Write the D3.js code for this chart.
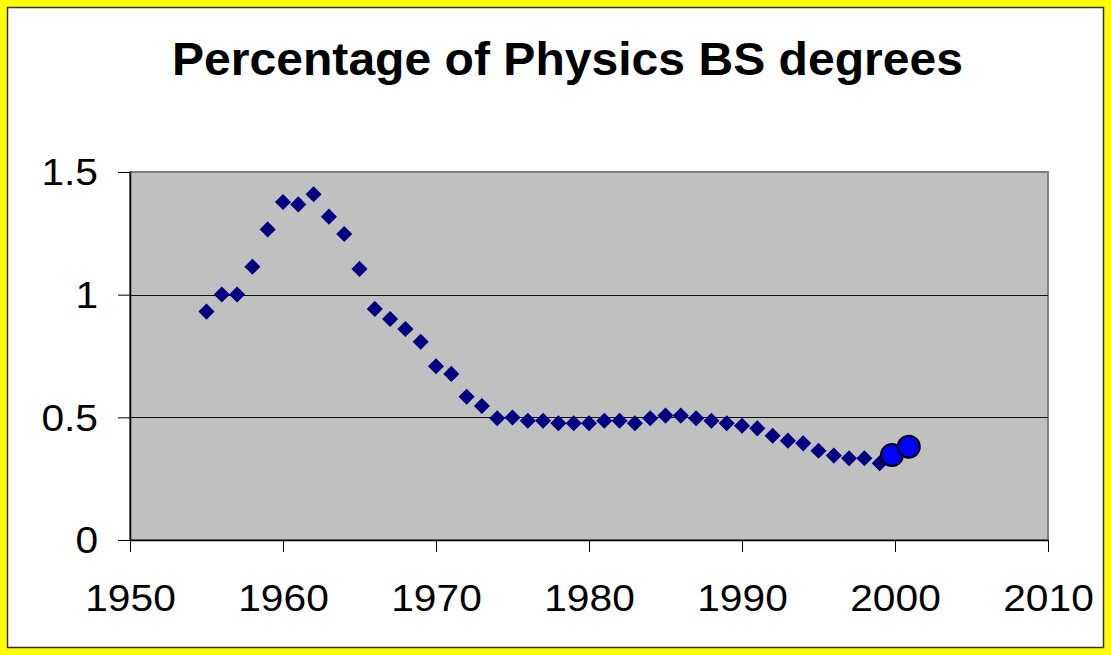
<!DOCTYPE html>
<meta charset="utf-8">
<style>
body { margin: 0; background: #fff; }
text { font-family: "Liberation Sans", Arial, sans-serif; }
</style>
<svg width="1111" height="655"></svg>
<script src="https://d3js.org/d3.v7.min.js"></script>
<script>

var years = [1955, 1956, 1957, 1958, 1959, 1960, 1961, 1962, 1963, 1964,
             1965, 1966, 1967, 1968, 1969, 1970, 1971, 1972, 1973, 1974,
             1975, 1976, 1977, 1978, 1979, 1980, 1981, 1982, 1983, 1984,
             1985, 1986, 1987, 1988, 1989, 1990, 1991, 1992, 1993, 1994,
             1995, 1996, 1997, 1998, 1999];
var percent = [0.931, 1.001, 1.001, 1.114, 1.266, 1.378, 1.368, 1.409, 1.318, 1.247,
               1.105, 0.942, 0.901, 0.860, 0.808, 0.708, 0.677, 0.584, 0.546, 0.496,
               0.499, 0.486, 0.486, 0.476, 0.476, 0.476, 0.486, 0.486, 0.476, 0.496,
               0.507, 0.507, 0.496, 0.486, 0.476, 0.466, 0.455, 0.425, 0.405, 0.394,
               0.364, 0.344, 0.333, 0.333, 0.313];

// the two later points drawn as big circles
var newYears = [1999.8, 2000.9];
var newPercent = [0.346, 0.380];

var xTicks = [1950, 1960, 1970, 1980, 1990, 2000, 2010];
var yTicks = [0, 0.5, 1, 1.5];
var yLabels = ["0", "0.5", "1", "1.5"];

var svg = d3.select("svg"),
    width = +svg.attr("width"),
    height = +svg.attr("height");

var stretch = 1.1;

// yellow frame
svg.append("rect")
    .attr("width", width).attr("height", height)
    .attr("fill", "#ffff00");
svg.append("rect")
    .attr("x", 7.5).attr("y", 7.5)
    .attr("width", width - 15).attr("height", height - 15)
    .attr("fill", "#fff")
    .attr("stroke", "#333")
    .attr("stroke-width", 1.5);

var title = svg.append("text")
    .attr("x", 567.5)
    .attr("y", 75)
    .attr("text-anchor", "middle")
    .attr("font-size", 46)
    .attr("font-weight", "bold")
    .attr("fill", "#000")
    .text("Percentage of Physics BS degrees");
title.attr("textLength", 791).attr("lengthAdjust", "spacingAndGlyphs");

var plotLeft = 130, plotRight = 1048, plotTop = 172, plotBottom = 540;

var x = d3.scaleLinear().domain([1950, 2010]).range([plotLeft, plotRight]);
var y = d3.scaleLinear().domain([0, 1.5]).range([plotBottom, plotTop]);

svg.append("rect")
    .attr("x", plotLeft).attr("y", plotTop)
    .attr("width", plotRight - plotLeft).attr("height", plotBottom - plotTop)
    .attr("fill", "#c0c0c0")
    .attr("stroke", "#808080")
    .attr("stroke-width", 2);

svg.append("g")
  .selectAll("line")
  .data(yTicks.filter(function(d) { return d > 0 && d < 1.5; }))
  .enter().append("line")
    .attr("x1", plotLeft).attr("x2", plotRight)
    .attr("y1", function(d) { return Math.round(y(d)) + 0.5; })
    .attr("y2", function(d) { return Math.round(y(d)) + 0.5; })
    .attr("stroke", "#111")
    .attr("stroke-width", 1);

var xAxis = svg.append("g")
    .attr("transform", "translate(0," + plotBottom + ")")
    .call(d3.axisBottom(x)
        .tickValues(xTicks)
        .tickSize(12)
        .tickSizeOuter(0)
        .tickPadding(33)
        .tickFormat(d3.format("d")));

var yAxis = svg.append("g")
    .attr("transform", "translate(" + plotLeft + ",0)")
    .call(d3.axisLeft(y)
        .tickValues(yTicks)
        .tickSize(12)
        .tickSizeOuter(0)
        .tickPadding(20)
        .tickFormat(function(d, i) { return yLabels[i]; }));

[xAxis, yAxis].forEach(function(ax) {
  ax.select(".domain").attr("stroke", "#000").attr("stroke-width", 1.5);
  ax.selectAll(".tick line").attr("stroke", "#000").attr("stroke-width", 1);
  ax.selectAll(".tick text")
      .attr("font-size", 37)
      .attr("font-family", "Liberation Sans, Arial, sans-serif")
      .attr("fill", "#000")
      .each(function() {
        var w = this.getComputedTextLength();
        d3.select(this).attr("textLength", w * stretch).attr("lengthAdjust", "spacingAndGlyphs");
      });
});
yAxis.selectAll(".tick text").attr("dy", "0.35em");

var diamond = d3.symbol().type(d3.symbolDiamond2).size(165);

svg.append("g")
  .selectAll("path")
  .data(years)
  .enter().append("path")
    .attr("transform", function(d, i) { return "translate(" + x(d) + "," + y(percent[i]) + ")"; })
    .attr("d", diamond)
    .attr("fill", "#000080");

svg.append("g")
  .selectAll("circle")
  .data(newYears)
  .enter().append("circle")
    .attr("cx", function(d) { return x(d); })
    .attr("cy", function(d, i) { return y(newPercent[i]); })
    .attr("r", 11)
    .attr("fill", "#0000ff")
    .attr("stroke", "#000")
    .attr("stroke-width", 2);

</script>
